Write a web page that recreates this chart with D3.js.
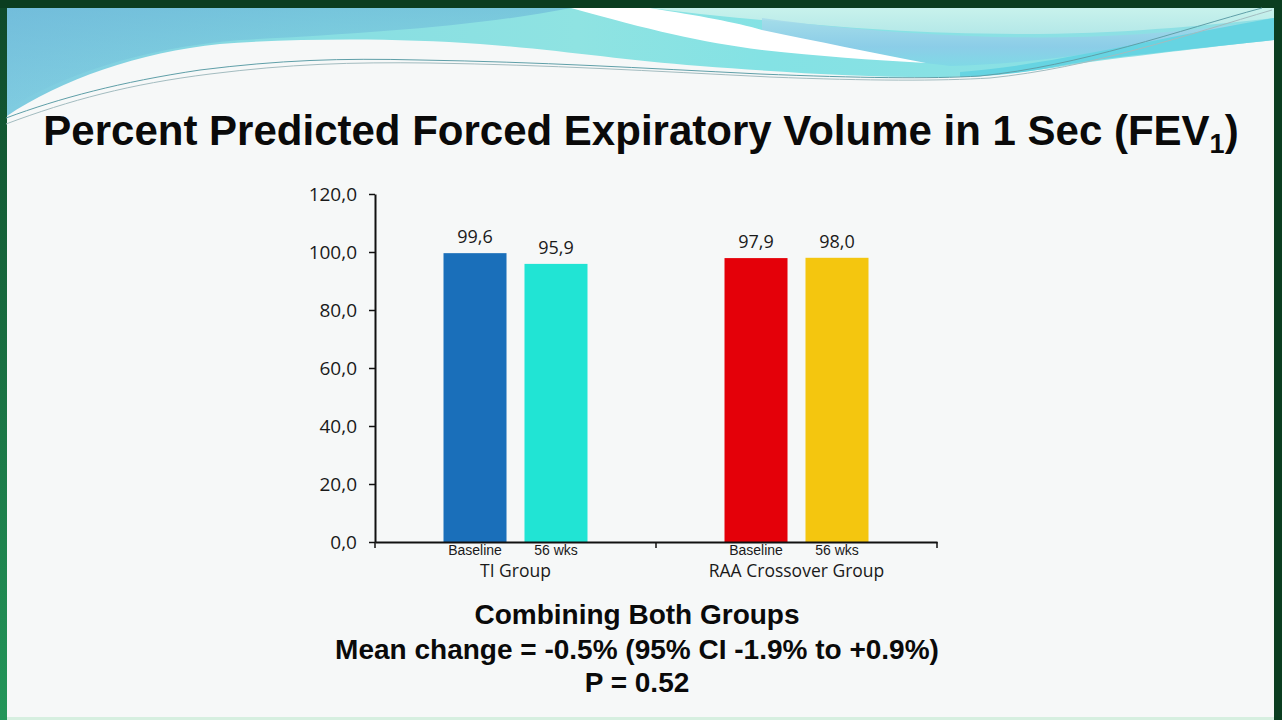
<!DOCTYPE html>
<html>
<head>
<meta charset="utf-8">
<script src="https://cdn.jsdelivr.net/npm/d3@7"></script>
<style>
  html, body { margin: 0; padding: 0; background: #f6f8f8; overflow: hidden; }
  svg { display: block; }
</style>
</head>
<body>
<svg id="chart" width="1282" height="720"></svg>
<script>
// ---- data ----
const categories = ["TI Group", "RAA Crossover Group"];
const series = ["Baseline", "56 wks"];
const baselineValues = [99.6, 97.9];
const week56Values = [95.9, 98.0];
const yTicks = [0, 20, 40, 60, 80, 100, 120];
const barColors = [["#1a6fba", "#21e4d4"], ["#e40009", "#f4c60f"]];
const titleText = "Percent Predicted Forced Expiratory Volume in 1 Sec (FEV";
const titleSub = "1";
const footerLines = ["Combining Both Groups", "Mean change = -0.5% (95% CI -1.9% to +0.9%)", "P = 0.52"];

(function () {
const W = 1282, H = 720;
const svg = d3.select("#chart");
const defs = svg.append("defs");

function grad(id, x1, y1, x2, y2, stops) {
  const gr = defs.append("linearGradient").attr("id", id)
    .attr("x1", x1).attr("y1", y1).attr("x2", x2).attr("y2", y2);
  stops.forEach(s => gr.append("stop").attr("offset", s[0]).attr("stop-color", s[1]).attr("stop-opacity", s[2] == null ? 1 : s[2]));
}
grad("leftBorder", 0, 0, 0, 1, [["0", "#0f4a2a"], ["1", "#23965a"]]);
grad("teal", 0, 0, 1, 0, [["0", "#7fcbe0"], ["0.25", "#88dee2"], ["0.45", "#8fe3e2"], ["0.6", "#84e2e4"], ["1", "#90dfe4"]]);
grad("tealV", 0, 0, 0, 1, [["0", "#6ab4d8", 0.6], ["1", "#6ab4d8", 0]]);
grad("pocket", 0, 0, 0, 1, [["0", "#a8dcea"], ["0.6", "#8ccbe8"], ["1", "#7fd8e6"]]);
grad("lightTop", 0, 0, 0, 1, [["0", "#c8f2ec"], ["1", "#b4e8e8"]]);

svg.append("rect").attr("width", W).attr("height", H).attr("fill", "#0b3d20");
svg.append("rect").attr("x", 0).attr("y", 8).attr("width", 8).attr("height", H - 8).attr("fill", "url(#leftBorder)");
svg.append("rect").attr("x", 7).attr("y", 8).attr("width", 1267).attr("height", H - 10).attr("fill", "#f6f8f8");
svg.append("rect").attr("x", 7).attr("y", H - 3).attr("width", 1267).attr("height", 3).attr("fill", "#d6efe0");

// teal base
svg.append("path")
  .attr("d", "M7,8 L1274,8 L1274,40 C1220,46 1150,54 1090,62 C1040,70 1000,76 950,77 C870,78 780,72 700,66 C620,60 560,50 480,44 C400,38 300,38 220,44 C140,52 60,80 7,116 Z")
  .attr("fill", "url(#teal)");
// blue tint top-left
svg.append("path")
  .attr("d", "M7,8 L571,8 C480,26 360,34 240,40 C140,48 60,76 7,110 Z")
  .attr("fill", "url(#tealV)");
// light region top right
svg.append("path")
  .attr("d", "M650,8 L1274,8 L1274,18 C1200,26 1120,34 1020,34 C900,34 800,24 700,14 Z")
  .attr("fill", "url(#lightTop)");
// blue pocket under streak
svg.append("path")
  .attr("d", "M762,40 C840,52 900,60 950,66 C1040,64 1140,48 1240,24 C1150,36 1060,40 970,36 C880,32 820,26 762,18 Z")
  .attr("fill", "url(#pocket)").attr("opacity", 0.9);
// turquoise band right
svg.append("path")
  .attr("d", "M960,72 C1040,66 1120,46 1274,18 L1274,40 C1200,48 1120,56 1070,64 C1030,72 1000,76 960,77 Z")
  .attr("fill", "#66d4e2");
// white streak
svg.append("path")
  .attr("d", "M571,8 L650,8 C700,16 735,22 762,30 C820,42 870,52 926,63 C870,60 820,56 762,50 C700,42 650,30 571,8 Z")
  .attr("fill", "#ffffff");
// thin lines
svg.append("path")
  .attr("d", "M6,118 C60,98 120,82 200,70 C280,60 340,58 420,60 C540,62 640,68 760,74 C860,78 930,79 980,76 C1080,66 1180,30 1262,8")
  .attr("fill", "none").attr("stroke", "#5f9fa8").attr("stroke-width", 1);
svg.append("path")
  .attr("d", "M6,124 C70,100 130,84 210,74 C290,64 350,62 430,63 C550,65 650,71 770,77 C870,81 940,81 990,78 C1090,68 1190,34 1272,10")
  .attr("fill", "none").attr("stroke", "#a3bcc0").attr("stroke-width", 1);

// ---- title ----
const title = svg.append("text").attr("x", 641).attr("y", 145).attr("text-anchor", "middle")
  .attr("font-family", "'Liberation Sans', Arial, sans-serif").attr("font-weight", "bold").attr("font-size", 42).attr("fill", "#0a0a0a");
title.append("tspan").text(titleText);
title.append("tspan").text(titleSub).attr("font-size", 27).attr("dy", 8);
title.append("tspan").text(")").attr("dy", -8);

// ---- chart ----
const pLeft = 375, pRight = 937, pTop = 194, pBottom = 542;
const y = d3.scaleLinear().domain([0, 120]).range([pBottom, pTop]);
const x0 = d3.scaleBand().domain(categories).range([pLeft, pRight]).padding(0);
const x1 = d3.scaleBand().domain(series).range([0, x0.bandwidth()]).paddingInner(0.222).paddingOuter(0.846);
const locale = d3.formatLocale({ decimal: ",", thousands: ".", grouping: [3], currency: ["", ""] });
const fmt = locale.format(".1f");

const data = [];
categories.forEach((c, i) => {
  data.push({ cat: c, ser: series[0], v: baselineValues[i], color: barColors[i][0] });
  data.push({ cat: c, ser: series[1], v: week56Values[i], color: barColors[i][1] });
});

const g = svg.append("g");
g.selectAll("rect.bar").data(data).join("rect").attr("class", "bar")
  .attr("x", d => x0(d.cat) + x1(d.ser))
  .attr("y", d => y(d.v))
  .attr("width", x1.bandwidth())
  .attr("height", d => y(0) - y(d.v))
  .attr("fill", d => d.color);

g.selectAll("text.val").data(data).join("text").attr("class", "val")
  .attr("x", d => x0(d.cat) + x1(d.ser) + x1.bandwidth() / 2)
  .attr("y", d => y(d.v) - 10)
  .attr("text-anchor", "middle")
  .attr("font-family", "'Open Sans', sans-serif").attr("font-size", 18).attr("fill", "#1a1a1a")
  .text(d => fmt(d.v));

g.selectAll("text.ser").data(data).join("text").attr("class", "ser")
  .attr("x", d => x0(d.cat) + x1(d.ser) + x1.bandwidth() / 2)
  .attr("y", 555)
  .attr("text-anchor", "middle")
  .attr("font-family", "'Liberation Sans', Arial, sans-serif").attr("font-size", 14).attr("fill", "#1a1a1a")
  .text(d => d.ser);

const yAxis = g.append("g").attr("transform", `translate(${pLeft},0)`)
  .call(d3.axisLeft(y).tickValues(yTicks).tickSize(6).tickSizeOuter(0).tickPadding(12).tickFormat(fmt));
yAxis.selectAll("text").attr("font-family", "'Open Sans', sans-serif").attr("font-size", 19).attr("fill", "#1a1a1a");
yAxis.selectAll("line").attr("stroke", "#111").attr("stroke-width", 1.5);
yAxis.select(".domain").attr("stroke", "#111").attr("stroke-width", 2);

const xAxis = g.append("g").attr("transform", `translate(0,${pBottom})`)
  .call(d3.axisBottom(x0).tickSize(0).tickSizeOuter(0).tickPadding(23));
xAxis.selectAll("text").attr("font-family", "'Open Sans', sans-serif").attr("font-size", 17.5).attr("fill", "#1a1a1a");
xAxis.select(".domain").attr("stroke", "#111").attr("stroke-width", 2);
const bounds = [x0(categories[0])].concat(categories.map(c => x0(c) + x0.bandwidth()));
xAxis.selectAll("line.bound").data(bounds).join("line").attr("class", "bound")
  .attr("x1", d => d).attr("x2", d => d).attr("y1", 0).attr("y2", 6)
  .attr("stroke", "#111").attr("stroke-width", 1.5);

// ---- footer ----
svg.append("g").selectAll("text").data(footerLines).join("text")
  .attr("x", 637).attr("y", (d, i) => [624, 659, 692][i])
  .attr("text-anchor", "middle")
  .attr("font-family", "'Liberation Sans', Arial, sans-serif").attr("font-weight", "bold").attr("font-size", 28).attr("fill", "#0a0a0a")
  .text(d => d);
})();
</script>
</body>
</html>
